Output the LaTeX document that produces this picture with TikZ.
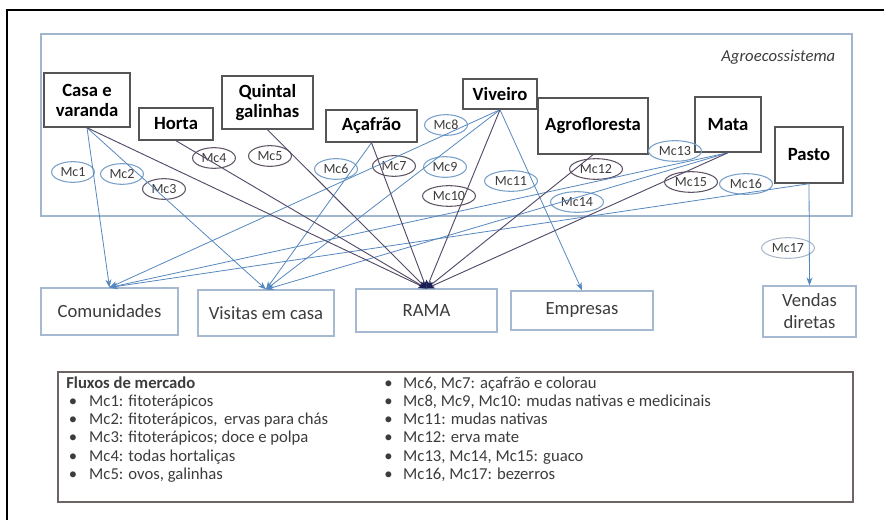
\documentclass[tikz,border=0pt]{standalone}
\usepackage{fontspec}
\setmainfont{Carlito}
\usetikzlibrary{shapes.geometric,arrows.meta}
\definecolor{boxgray}{RGB}{85,85,85}
\definecolor{agroframe}{RGB}{160,182,204}
\definecolor{outbox}{RGB}{165,186,208}
\definecolor{flowblue}{RGB}{86,135,190}
\definecolor{flowdark}{RGB}{84,74,104}
\definecolor{ramanavy}{RGB}{25,30,85}
\definecolor{mcblue}{RGB}{120,160,200}
\definecolor{mcdark}{RGB}{95,85,100}
\definecolor{mclight}{RGB}{170,186,202}
\definecolor{txtgray}{RGB}{60,60,60}
\definecolor{legframe}{RGB}{110,100,100}
\begin{document}
\begin{tikzpicture}[x=0.75pt,y=-0.75pt,
    srcbox/.style={draw=boxgray,line width=1.1pt,fill=white,align=center,inner sep=0pt,
      font=\fontsize{14}{15}\selectfont\bfseries},
    outlet/.style={draw=outbox,line width=0.8pt,align=center,inner sep=0pt,text=txtgray,
      font=\fontsize{14}{16.5}\selectfont},
    mcb/.style={ellipse,draw=mcblue,line width=0.8pt,inner xsep=2pt,inner ysep=1pt,
      minimum height=15.5pt,text=txtgray,font=\fontsize{10.5}{11}\selectfont},
    mcd/.style={mcb,draw=mcdark},
    blueflow/.style={draw=flowblue,line width=0.6pt,-{Stealth[length=6pt,width=4.5pt]}},
    darkflow/.style={draw=flowdark,line width=0.7pt,-{Stealth[length=6pt,width=5pt,color=ramanavy]}}]
  \useasboundingbox (0,0) rectangle (884,520);
    \draw[line width=1.2pt] (7,530) -- (7,10) -- (890,10);
    \draw[agroframe,line width=0.9pt] (41,34) rectangle (852,216);
      \node[anchor=east,text=txtgray,font=\fontsize{12.5}{13}\selectfont\itshape] (agro) at (840,57){Agroecossistema};

      \node[srcbox,minimum width=64.5pt,minimum height=40.5pt] (casa) at (87,100){Casa e\\varanda};
      \node[srcbox,minimum width=55.5pt,minimum height=24pt] (horta) at (176,124){Horta};
      \node[srcbox,minimum width=68.25pt,minimum height=39.75pt] (quintal) at (267.5,102.5){Quintal\\galinhas};
      \node[srcbox,minimum width=68.25pt,minimum height=24pt] (acafrao) at (371.5,126){Açafrão};
      \node[srcbox,minimum width=55.5pt,minimum height=22.5pt] (viveiro) at (500,94){Viveiro};
      \node[srcbox,minimum width=82.5pt,minimum height=42pt] (agrofl) at (593,126){Agrofloresta};
      \node[srcbox,minimum width=49.5pt,minimum height=41.25pt] (mata) at (728,124.5){Mata};
      \node[srcbox,minimum width=51pt,minimum height=42pt] (pasto) at (809,155){Pasto};

      \node[outlet,minimum width=102.75pt,minimum height=35.25pt] (comun) at (109.5,311.5){Comunidades};
      \node[outlet,minimum width=102pt,minimum height=34.5pt] (visitas) at (266,313){Visitas em casa};
      \node[outlet,minimum width=105.75pt,minimum height=32.25pt] (rama) at (426.5,310.5){RAMA};
      \node[outlet,minimum width=106.5pt,minimum height=29.25pt] (empresas) at (582,310.5){Empresas};
      \node[outlet,minimum width=69.75pt,minimum height=38.25pt] (vendas) at (809.5,311.5){Vendas\\diretas};

      \node[mcb] (mc1) at (73,172){Mc1};
      \node[mcb] (mc2) at (122,174){Mc2};
      \node[mcd] (mc3) at (164,189){Mc3};
      \node[mcd] (mc4) at (214,158){Mc4};
      \node[mcd] (mc5) at (270,156){Mc5};
      \node[mcb] (mc6) at (336,169){Mc6};
      \node[mcd] (mc7) at (394,166){Mc7};
      \node[mcb] (mc8) at (446,125){Mc8};
      \node[mcb] (mc9) at (445,167){Mc9};
      \node[mcd] (mc10) at (449,196){Mc10};
      \node[mcb] (mc11) at (511,181){Mc11};
      \node[mcd] (mc12) at (596,169){Mc12};
      \node[mcb] (mc13) at (675,151){Mc13};
      \node[mcb] (mc14) at (577,202){Mc14};
      \node[mcd] (mc15) at (691,182){Mc15};
      \node[mcb] (mc16) at (746,184){Mc16};
      \node[mcb,draw=mclight] (mc17) at (788,248){Mc17};

      \draw[blueflow] (casa.south) to (comun.north);
      \draw[blueflow] (casa.south) to (visitas.north);
      \draw[blueflow] (acafrao.south) to (visitas.north);
      \draw[blueflow] (viveiro.south) to (comun.north);
      \draw[blueflow] (viveiro.south) to (visitas.north);
      \draw[blueflow] (viveiro.south) to (empresas.north);
      \draw[blueflow] (mata.south) to (comun.north);
      \draw[blueflow] (mata.south) to (visitas.north);
      \draw[blueflow] (pasto.south) to (comun.north);
      \draw[blueflow] (pasto.south) to (vendas.north);

      \draw[darkflow] (casa.south) to (rama.north);
      \draw[darkflow] (horta.south) to (rama.north);
      \draw[darkflow] (quintal.south) to (rama.north);
      \draw[darkflow] (acafrao.south) to (rama.north);
      \draw[darkflow] (viveiro.south) to (rama.north);
      \draw[darkflow] (agrofl.south) to (rama.north);
      \draw[darkflow] (mata.south) to (rama.north);

    \node[draw=legframe,line width=1.5pt,minimum width=596.25pt,minimum height=97.5pt] (legend) at (455.5,437){};
    \node[anchor=north west,inner sep=0pt,text=txtgray,font=\fontsize{12.5}{13.7}\selectfont] (legleft) at (66,375){%
      \begin{tabular}{@{\hspace{2pt}}l@{\hspace{9pt}}l@{}}
        \multicolumn{2}{@{}l}{\textbf{Fluxos de mercado}}\\
        \textbullet & Mc1: fitoterápicos\\
        \textbullet & Mc2: fitoterápicos,\, ervas para chás\\
        \textbullet & Mc3: fitoterápicos; doce e polpa\\
        \textbullet & Mc4: todas hortaliças\\
        \textbullet & Mc5: ovos, galinhas
      \end{tabular}};
    \node[anchor=north west,inner sep=0pt,text=txtgray,font=\fontsize{12.5}{13.7}\selectfont] (legright) at (384,375){%
      \begin{tabular}{@{}l@{\hspace{8pt}}l@{}}
        \textbullet & Mc6, Mc7: açafrão e colorau\\
        \textbullet & Mc8, Mc9, Mc10: mudas nativas e medicinais\\
        \textbullet & Mc11: mudas nativas\\
        \textbullet & Mc12: erva mate\\
        \textbullet & Mc13, Mc14, Mc15: guaco\\
        \textbullet & Mc16, Mc17: bezerros
      \end{tabular}};

\end{tikzpicture}
\end{document}
